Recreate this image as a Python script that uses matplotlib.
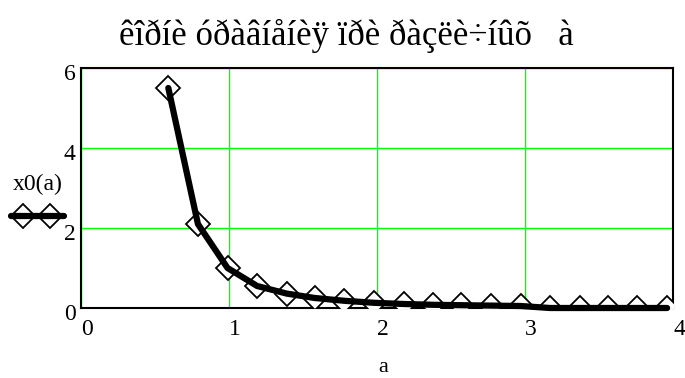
import matplotlib
matplotlib.use("Agg")
import matplotlib.pyplot as plt
import matplotlib.transforms as mtransforms
from matplotlib.lines import Line2D

# data
a_vals = [0.59, 0.79, 0.99, 1.19, 1.39, 1.58, 1.78, 1.98, 2.18, 2.38,
          2.57, 2.77, 2.97, 3.17, 3.37, 3.56, 3.76, 3.96]
x0_vals = [5.5, 2.1, 1.0, 0.55, 0.36, 0.25, 0.18, 0.13, 0.1, 0.08,
           0.07, 0.06, 0.05, 0.0, 0.0, 0.0, 0.0, 0.0]
x_ticks = [0, 1, 2, 3, 4]
y_ticks = [0, 2, 4, 6]
title = "êîðíè óðàâíåíèÿ ïðè ðàçëè÷íûõ   à"

plt.rcParams['font.family'] = ['Liberation Serif', 'DejaVu Serif']

fig = plt.figure(figsize=(6.85, 3.78), dpi=100)
ax = fig.add_axes([81/685, 70/378, 592/685, 240/378])

# markers clipped by the frame, thick line on top
ax.plot(a_vals, x0_vals, ls='none', marker='D', ms=12,
        mfc='white', mec='black', mew=1.3, zorder=3)
ax.plot(a_vals, x0_vals, color='black', lw=4.5, zorder=4, clip_on=False,
        solid_capstyle='round')

ax.set_xlim(0, 4)
ax.set_ylim(0, 6)
ax.set_xticks(x_ticks)
ax.set_yticks(y_ticks)
ax.grid(True, color='#00ff00', lw=1)
ax.set_axisbelow(True)
for s in ax.spines.values():
    s.set_color('black')
    s.set_linewidth(1.5)
ax.tick_params(length=0, labelsize=17)
ax.tick_params(axis='x', pad=8)
ax.tick_params(axis='y', pad=4)

# MathCad puts the x numbers a bit to the right of the grid lines
shift = mtransforms.ScaledTranslation(6/100, 0, fig.dpi_scale_trans)
for lbl in ax.get_xticklabels():
    lbl.set_transform(lbl.get_transform() + shift)
shift_y = mtransforms.ScaledTranslation(0, -4/100, fig.dpi_scale_trans)
for lbl in ax.get_yticklabels():
    lbl.set_transform(lbl.get_transform() + shift_y)

fig.text(383/685, 1 - 367/378, 'a', ha='center', va='center', fontsize=16)
fig.text(346/685, 1 - 36/378, title, ha='center', va='center', fontsize=25)

# legend at left, MathCad style
fig.text(38/685, 1 - 184/378, 'x0(a)', ha='center', va='center', fontsize=17)
leg = Line2D([11/685, 64/685], [1 - 216/378, 1 - 216/378], transform=fig.transFigure,
             color='black', lw=4.5, solid_capstyle='round')
fig.add_artist(leg)
leg_m = Line2D([23/685, 50/685], [1 - 216/378, 1 - 216/378], transform=fig.transFigure,
               ls='none', marker='D', ms=12, mfc='none', mec='black', mew=1.3)
fig.add_artist(leg_m)

fig.savefig('out.png', dpi=100)
